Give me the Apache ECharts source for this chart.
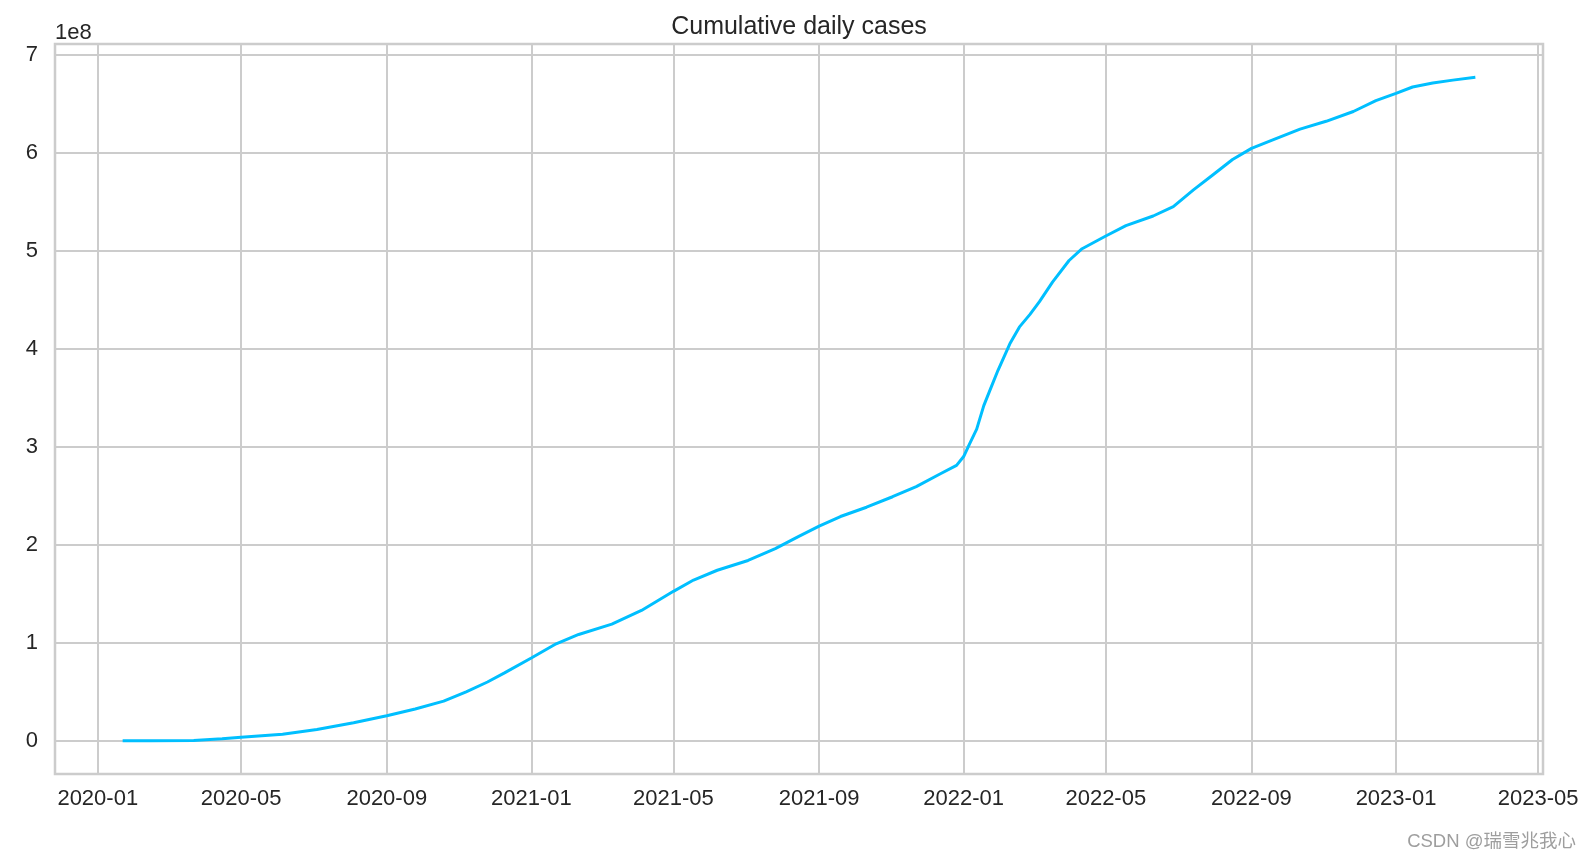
<!DOCTYPE html>
<html>
<head>
<meta charset="utf-8">
<script src="https://cdn.jsdelivr.net/npm/echarts@6/dist/echarts.min.js"></script>
<style>
html,body{margin:0;padding:0;background:#fff;}
#chart{width:1591px;height:861px;}
</style>
</head>
<body>
<div id="chart"></div>
<script>
// ---- data (cumulative cases, in units of 1e8) ----
const dates = [
 '2020-01-22','2020-02-15','2020-03-22','2020-04-15','2020-05-01','2020-06-05','2020-07-04','2020-08-04',
 '2020-09-01','2020-09-25','2020-10-19','2020-11-07','2020-11-25','2020-12-09','2021-01-01','2021-01-22',
 '2021-02-10','2021-03-10','2021-04-04','2021-05-01','2021-05-18','2021-06-07','2021-07-03','2021-07-26',
 '2021-08-14','2021-09-01','2021-09-19','2021-10-11','2021-11-02','2021-11-22','2021-12-12','2021-12-26',
 '2022-01-01','2022-01-06','2022-01-12','2022-01-18','2022-01-24','2022-01-30','2022-02-09','2022-02-17',
 '2022-02-26','2022-03-06','2022-03-17','2022-03-31','2022-04-11','2022-05-01','2022-05-18','2022-06-10',
 '2022-06-27','2022-07-14','2022-07-30','2022-08-16','2022-09-01','2022-09-19','2022-10-12','2022-11-03',
 '2022-11-26','2022-12-15','2023-01-01','2023-01-15','2023-02-01','2023-02-18','2023-03-09'
];
const casesE8 = [
 0.0000056,0.0007,0.0034,0.02,0.036,0.068,0.115,0.185,
 0.255,0.325,0.405,0.50,0.60,0.69,0.845,0.99,
 1.085,1.19,1.33,1.525,1.64,1.74,1.84,1.96,
 2.08,2.19,2.288,2.383,2.49,2.593,2.722,2.81,
 2.90,3.03,3.18,3.42,3.60,3.78,4.05,4.22,
 4.35,4.48,4.68,4.90,5.02,5.15,5.255,5.354,
 5.45,5.62,5.77,5.93,6.044,6.13,6.24,6.32,
 6.42,6.53,6.605,6.67,6.71,6.74,6.77
];
const xTickLabels = ['2020-01','2020-05','2020-09','2021-01','2021-05','2021-09','2022-01','2022-05','2022-09','2023-01','2023-05'];
const yTickValues = [0,1,2,3,4,5,6,7];
const titleText = 'Cumulative daily cases';
const yOffsetLabel = '1e8';
const watermark = 'CSDN @瑞雪兆我心';

// ---- build ----
function toUTC(s){
  const p = s.split('-').map(Number);
  return Date.UTC(p[0], p[1]-1, p[2] || 1);
}
const seriesData = dates.map((d,i)=>[toUTC(d), casesE8[i]]);
const xMinData = seriesData[0][0], xMaxData = seriesData[seriesData.length-1][0];
const xPad = (xMaxData - xMinData) * 0.05;
const yMinData = Math.min(...casesE8), yMaxData = Math.max(...casesE8);
const yPad = (yMaxData - yMinData) * 0.05;
const xTickValues = xTickLabels.map(toUTC);

function fmtMonth(v){
  const d = new Date(v);
  const m = d.getUTCMonth()+1;
  return d.getUTCFullYear() + '-' + (m<10?'0':'') + m;
}

const textColor = '#262626';
const gridColor = '#cccccc';
const fontFam = '"Liberation Sans", Arial, sans-serif';

const chart = echarts.init(document.getElementById('chart'), null, {renderer:'canvas'});
chart.setOption({
  animation:false,
  backgroundColor:'#ffffff',
  textStyle:{fontFamily:fontFam},
  title:{
    text:titleText,
    left:794, top:10,
    textAlign:'center',
    textStyle:{fontSize:25, fontWeight:'normal', color:textColor, fontFamily:fontFam}
  },
  grid:{
    left:55, right:48, top:44, bottom:87,
    show:true, borderColor:gridColor, borderWidth:2.5, backgroundColor:'#ffffff',
    containLabel:false
  },
  xAxis:{
    type:'value',
    min:xMinData - xPad,
    max:xMaxData + xPad,
    axisLine:{show:false},
    axisTick:{show:false, customValues:xTickValues},
    axisLabel:{
      customValues:xTickValues,
      formatter:function(v){ return fmtMonth(v); },
      fontSize:22, color:textColor, margin:14, fontFamily:fontFam,
      showMinLabel:true, showMaxLabel:true, hideOverlap:false
    },
    splitLine:{show:true, lineStyle:{color:gridColor, width:2}}
  },
  yAxis:{
    type:'value',
    min:yMinData - yPad,
    max:yMaxData + yPad,
    name:yOffsetLabel,
    nameLocation:'end',
    nameGap:0,
    nameTextStyle:{fontSize:22, color:textColor, align:'left', fontFamily:fontFam, padding:[0,0,0,0]},
    axisLine:{show:false},
    axisTick:{show:false, customValues:yTickValues},
    axisLabel:{
      customValues:yTickValues,
      formatter:function(v){ return String(v); },
      fontSize:22, color:textColor, margin:17, fontFamily:fontFam
    },
    splitLine:{show:true, lineStyle:{color:gridColor, width:2}}
  },
  series:[{
    type:'line',
    data:seriesData,
    showSymbol:false,
    symbol:'none',
    lineStyle:{color:'#00BFFF', width:3},
    itemStyle:{color:'#00BFFF'},
    z:5
  }],
  graphic:[{
    type:'text',
    right:15, top:833,
    style:{
      text:watermark,
      fontSize:18.5,
      fill:'#9e9e9e',
      fontFamily:'"Liberation Sans", "Noto Sans CJK SC", sans-serif'
    }
  }]
});
</script>
</body>
</html>
